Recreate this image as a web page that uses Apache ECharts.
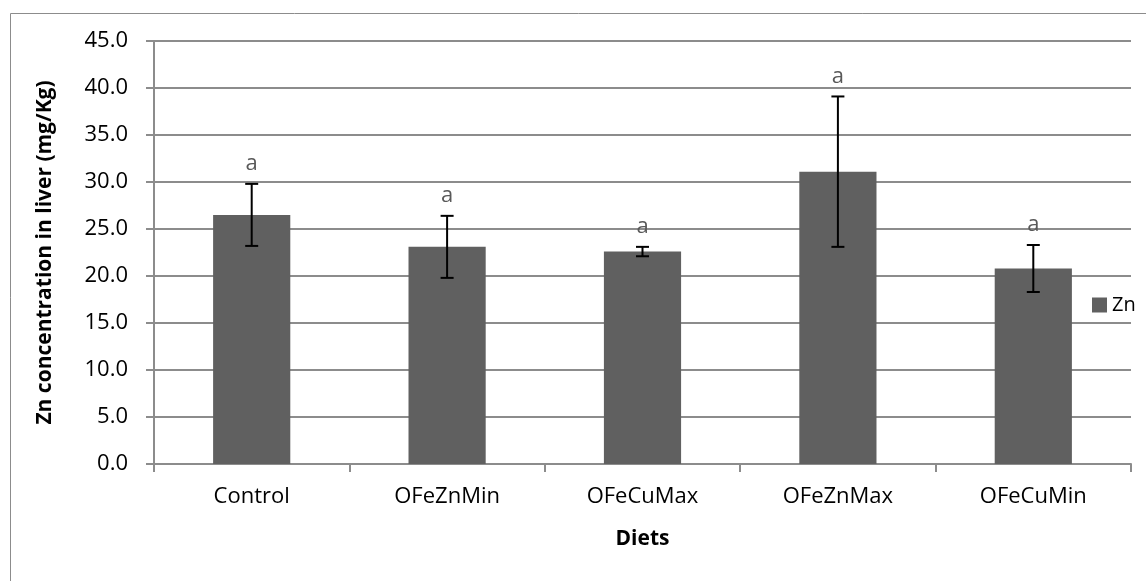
<!DOCTYPE html>
<html>
<head>
<meta charset="utf-8">
<script src="https://cdn.jsdelivr.net/npm/echarts@6/dist/echarts.min.js"></script>
<style>
    html, body { margin: 0; padding: 0; background: #fff; }
    #chart { width: 1146px; height: 581px; }
</style>
</head>
<body>
<div id="chart"></div>
<script>
// Chart data
const diets = ['Control', 'OFeZnMin', 'OFeCuMax', 'OFeZnMax', 'OFeCuMin'];
const znMeans = [26.5, 23.1, 22.6, 31.1, 20.8];
const znErrors = [3.3, 3.3, 0.5, 8.0, 2.5];
const letters = ['a', 'a', 'a', 'a', 'a'];
const yTicks = [0, 45, 5]; // min, max, interval

const chart = echarts.init(document.getElementById('chart'));

// error bar data: [index, low, high]
const errData = diets.map((d, i) => [i, znMeans[i] - znErrors[i], znMeans[i] + znErrors[i]]);

const font = '"Open Sans", sans-serif';
const axisGrey = '#8c8c8c';

const option = {
    animation: false,
    textStyle: { fontFamily: font },
    graphic: [{
        type: 'rect',
        left: 8, top: 11,
        shape: { width: 1300, height: 700 },
        style: { fill: 'none', stroke: axisGrey, lineWidth: 1 },
        silent: true
    }],
    grid: { left: 154, right: 15, top: 41, bottom: 117 },
    legend: {
        data: ['Zn'],
        left: 1087, top: 289,
        icon: 'rect',
        itemWidth: 15, itemHeight: 15, itemGap: 5,
        textStyle: { fontFamily: font, fontSize: 20, color: '#000', lineHeight: 22 }
    },
    xAxis: {
        type: 'category',
        data: diets,
        name: 'Diets',
        nameLocation: 'middle',
        nameGap: 65,
        nameTextStyle: { fontFamily: font, fontSize: 21, fontWeight: 'bold', color: '#000' },
        axisLine: { lineStyle: { color: axisGrey, width: 2 } },
        axisTick: { show: true, length: 8, alignWithLabel: false, lineStyle: { color: axisGrey, width: 2 } },
        axisLabel: { margin: 22, fontSize: 22, color: '#000', fontFamily: font }
    },
    yAxis: {
        type: 'value',
        min: yTicks[0], max: yTicks[1], interval: yTicks[2],
        name: 'Zn concentration in liver (mg/Kg)',
        nameLocation: 'middle',
        nameGap: 98,
        nameTextStyle: { fontFamily: font, fontSize: 21, fontWeight: 'bold', color: '#000' },
        axisLine: { show: true, lineStyle: { color: axisGrey, width: 2 } },
        axisTick: { show: true, length: 8, lineStyle: { color: axisGrey, width: 2 } },
        axisLabel: { margin: 26, fontSize: 22, color: '#000', fontFamily: font, formatter: v => v.toFixed(1) },
        splitLine: { lineStyle: { color: axisGrey, width: 2 } }
    },
    series: [
        {
            name: 'Zn',
            type: 'bar',
            data: znMeans,
            barWidth: '39.5%',
            itemStyle: { color: '#606060' }
        },
        {
            name: 'err',
            type: 'custom',
            data: errData,
            encode: { x: 0, y: [1, 2] },
            z: 10,
            renderItem: (params, api) => {
                const i = api.value(0);
                const lo = api.coord([i, api.value(1)]);
                const hi = api.coord([i, api.value(2)]);
                const cap = 6.5;
                const st = { stroke: '#000', lineWidth: 2 };
                return {
                    type: 'group',
                    children: [
                        { type: 'line', shape: { x1: hi[0], y1: hi[1], x2: lo[0], y2: lo[1] }, style: st },
                        { type: 'line', shape: { x1: hi[0] - cap, y1: hi[1], x2: hi[0] + cap, y2: hi[1] }, style: st },
                        { type: 'line', shape: { x1: lo[0] - cap, y1: lo[1], x2: lo[0] + cap, y2: lo[1] }, style: st },
                        {
                            type: 'text',
                            style: {
                                text: letters[params.dataIndex],
                                x: hi[0], y: hi[1] - 20,
                                align: 'center', verticalAlign: 'middle',
                                font: '22px "Open Sans", sans-serif',
                                fill: '#595959'
                            }
                        }
                    ]
                };
            }
        }
    ]
};

chart.setOption(option);
</script>
</body>
</html>
